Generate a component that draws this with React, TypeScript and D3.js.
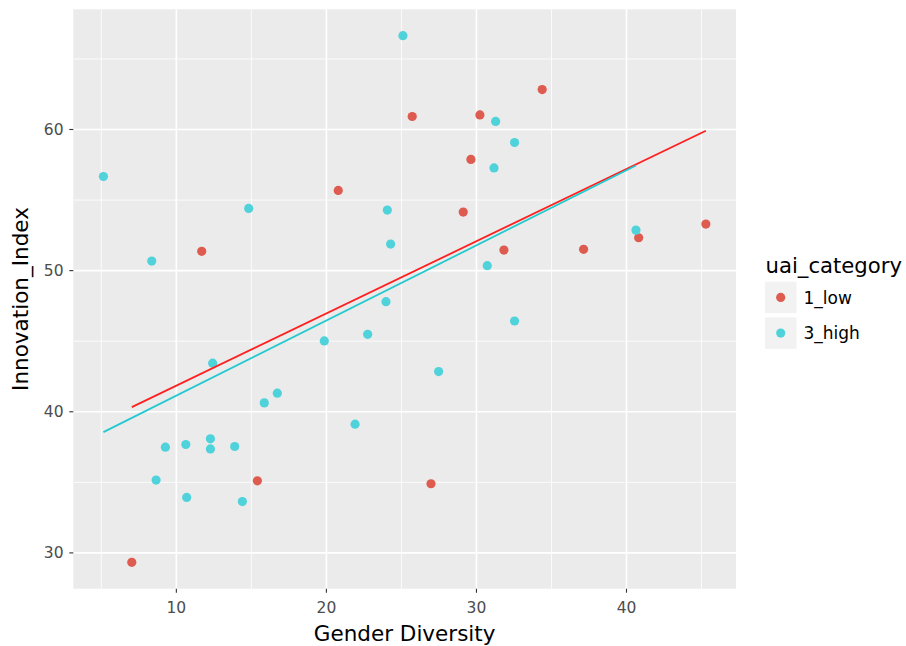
import * as d3 from "d3";

// uai_category = "1_low"
const lowX = [25.72, 20.79, 11.69, 34.38, 30.23, 29.63, 29.12, 40.81, 45.29, 31.83, 37.14, 15.4, 7.03, 26.97];
const lowY = [60.92, 55.68, 51.37, 62.83, 61.03, 57.88, 54.15, 52.33, 53.3, 51.46, 51.51, 35.11, 29.33, 34.9];

// uai_category = "3_high"
const highX = [
  25.1, 5.14, 14.82, 24.06, 24.28, 8.36, 31.28, 32.54, 31.17, 40.63, 30.72, 23.97, 12.42, 19.86,
  22.75, 16.73, 15.86, 21.91, 9.27, 10.63, 12.27, 12.27, 13.89, 8.65, 10.69, 14.4, 32.54, 27.48,
];
const highY = [
  66.65, 56.67, 54.41, 54.29, 51.88, 50.68, 60.57, 59.08, 57.28, 52.87, 50.35, 47.8, 43.44, 45.02,
  45.49, 41.32, 40.63, 39.12, 37.49, 37.68, 38.08, 37.37, 37.54, 35.16, 33.93, 33.64, 46.43, 42.85,
];

const categories = ["1_low", "3_high"];
const xTicks = [10, 20, 30, 40];
const yTicks = [30, 40, 50, 60];

const W = 906;
const H = 646;
const panel = { left: 73.3, right: 736, top: 9.3, bottom: 588.7 };
const font = "'DejaVu Sans', sans-serif";

const pointColor = { "1_low": "#DE5B50", "3_high": "#50D2DB" };
const lineColor = { "1_low": "#FF1F1F", "3_high": "#22C9CF" };

function fit(xs: number[], ys: number[]) {
  const mx = d3.mean(xs) as number;
  const my = d3.mean(ys) as number;
  let sxy = 0;
  let sxx = 0;
  xs.forEach((x, i) => {
    sxy += (x - mx) * (ys[i] - my);
    sxx += (x - mx) * (x - mx);
  });
  const b = sxy / sxx;
  const a = my - b * mx;
  const [x0, x1] = d3.extent(xs) as [number, number];
  return [
    [x0, a + b * x0],
    [x1, a + b * x1],
  ];
}

export default function App() {
  const allX = lowX.concat(highX);
  const allY = lowY.concat(highY);
  const [xmin, xmax] = d3.extent(allX) as [number, number];
  const [ymin, ymax] = d3.extent(allY) as [number, number];
  const xpad = (xmax - xmin) * 0.05;
  const ypad = (ymax - ymin) * 0.05;

  const x = d3.scaleLinear().domain([xmin - xpad, xmax + xpad]).range([panel.left, panel.right]);
  const y = d3.scaleLinear().domain([ymin - ypad, ymax + ypad]).range([panel.bottom, panel.top]);

  const xMinor = d3.range(5, 50, 10).filter((v) => x(v) > panel.left && x(v) < panel.right);
  const yMinor = d3.range(35, 70, 10).filter((v) => y(v) > panel.top && y(v) < panel.bottom);

  const groups = [
    { key: "1_low", xs: lowX, ys: lowY },
    { key: "3_high", xs: highX, ys: highY },
  ];
  const line = d3
    .line<number[]>()
    .x((d) => x(d[0]))
    .y((d) => y(d[1]));

  const panelMidY = (panel.top + panel.bottom) / 2;
  const panelMidX = (panel.left + panel.right) / 2;

  return (
    <svg
      width={W}
      height={H}
      style={{ position: "absolute", left: 0, top: 0, fontFamily: font }}
    >
      <rect x={0} y={0} width={W} height={H} fill="#fff" />
      <rect
        x={panel.left}
        y={panel.top}
        width={panel.right - panel.left}
        height={panel.bottom - panel.top}
        fill="#EBEBEB"
      />
      {xMinor.map((v) => (
        <line key={"xm" + v} x1={x(v)} x2={x(v)} y1={panel.top} y2={panel.bottom} stroke="#fff" strokeWidth={0.8} />
      ))}
      {yMinor.map((v) => (
        <line key={"ym" + v} x1={panel.left} x2={panel.right} y1={y(v)} y2={y(v)} stroke="#fff" strokeWidth={0.8} />
      ))}
      {xTicks.map((v) => (
        <line key={"xg" + v} x1={x(v)} x2={x(v)} y1={panel.top} y2={panel.bottom} stroke="#fff" strokeWidth={1.6} />
      ))}
      {yTicks.map((v) => (
        <line key={"yg" + v} x1={panel.left} x2={panel.right} y1={y(v)} y2={y(v)} stroke="#fff" strokeWidth={1.6} />
      ))}

      {groups.map((g) =>
        g.xs.map((v, i) => (
          <circle key={g.key + i} cx={x(v)} cy={y(g.ys[i])} r={4.6} fill={pointColor[g.key]} />
        ))
      )}
      {groups.map((g) => (
        <path key={"fit" + g.key} d={line(fit(g.xs, g.ys)) || ""} fill="none" stroke={lineColor[g.key]} strokeWidth={1.8} />
      ))}

      {xTicks.map((v) => (
        <g key={"xt" + v}>
          <line x1={x(v)} x2={x(v)} y1={panel.bottom} y2={panel.bottom + 4} stroke="#333" strokeWidth={1.1} />
          <text x={x(v)} y={613} textAnchor="middle" fontSize={15.5} fill="#4D4D4D">
            {v}
          </text>
        </g>
      ))}
      {yTicks.map((v) => (
        <g key={"yt" + v}>
          <line x1={panel.left - 4} x2={panel.left} y1={y(v)} y2={y(v)} stroke="#333" strokeWidth={1.1} />
          <text x={63.5} y={y(v)} dy="0.36em" textAnchor="end" fontSize={15.5} fill="#4D4D4D">
            {v}
          </text>
        </g>
      ))}

      <text x={panelMidX} y={641} textAnchor="middle" fontSize={21.5} fill="#000">
        Gender Diversity
      </text>
      <text
        transform={`translate(27.5,${panelMidY}) rotate(-90)`}
        textAnchor="middle"
        fontSize={21.5}
        fill="#000"
      >
        Innovation_Index
      </text>

      <text x={765.5} y={273} fontSize={21.2} fill="#000">
        uai_category
      </text>
      {categories.map((c, i) => (
        <g key={"lg" + c} transform={`translate(765,${281.7 + i * 35.7})`}>
          <rect x={0} y={0} width={31.5} height={31.5} fill="#F2F2F2" />
          <circle cx={15.7} cy={15.7} r={4.6} fill={pointColor[c]} />
          <text x={38.5} y={15.7} dy="0.36em" fontSize={17} fill="#000">
            {c}
          </text>
        </g>
      ))}
    </svg>
  );
}
